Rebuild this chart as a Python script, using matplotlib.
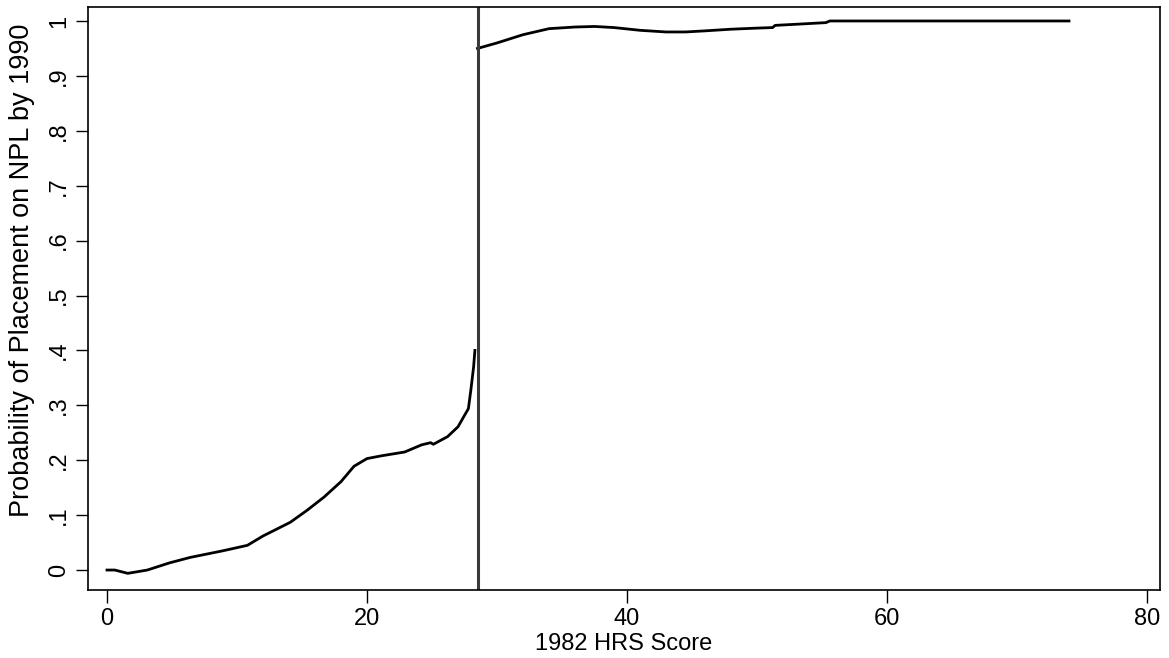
import matplotlib
matplotlib.use("Agg")
import matplotlib.pyplot as plt

# HRS score vs probability of NPL placement, below and above the 28.5 cutoff
x_below = [0, 0.6, 1.6, 3.1, 4.8, 6.4, 8.9, 10.8, 12.0, 14.1, 15.4, 16.7, 18.0, 19.0,
           20.0, 21.1, 22.9, 24.2, 24.9, 25.1, 26.2, 27.0, 27.8, 28.0, 28.2, 28.3]
y_below = [0.0, 0.0, -0.006, 0.0, 0.013, 0.023, 0.035, 0.045, 0.062, 0.087, 0.109, 0.133,
           0.161, 0.189, 0.203, 0.208, 0.215, 0.228, 0.232, 0.229, 0.243, 0.261, 0.294,
           0.33, 0.37, 0.40]
x_above = [28.5, 30, 32, 34, 36, 37.5, 39, 41, 43, 44.5, 46, 48, 50, 51.2, 51.4, 53,
           55.3, 55.6, 65, 74]
y_above = [0.950, 0.960, 0.975, 0.986, 0.989, 0.990, 0.988, 0.983, 0.980, 0.980, 0.982,
           0.985, 0.987, 0.988, 0.992, 0.994, 0.997, 1.0, 1.0, 1.0]
cutoff = 28.5

x_ticks = [0, 20, 40, 60, 80]
y_ticks = [0, .1, .2, .3, .4, .5, .6, .7, .8, .9, 1]
y_tick_labels = ["0", ".1", ".2", ".3", ".4", ".5", ".6", ".7", ".8", ".9", "1"]

plt.rcParams['font.family'] = ['Liberation Sans', 'DejaVu Sans']

fig = plt.figure(figsize=(11.69, 6.58), dpi=100)
ax = fig.add_axes([0.0753, 0.1033, 0.9170, 0.8861])

ax.plot(x_below, y_below, color='black', lw=2.0)
ax.plot(x_above, y_above, color='black', lw=2.0)
ax.axvline(cutoff, color='#3a3a3a', lw=2.2)

ax.set_xlim(-1.46, 81.0)
ax.set_ylim(-0.0364, 1.0255)
ax.set_xticks(x_ticks)
ax.set_yticks(y_ticks)
ax.set_yticklabels(y_tick_labels, rotation=90, va='center')
ax.tick_params(direction='out', length=9, width=1.0, labelsize=17, pad=4)

for s in ax.spines.values():
    s.set_linewidth(1.2)

ax.set_xlabel("1982 HRS Score", fontsize=17, labelpad=2)
ax.set_ylabel("Probability of Placement on NPL by 1990", fontsize=19.5)
ax.yaxis.set_label_coords(-0.049, 0.549)

fig.savefig("out.png", dpi=100)
